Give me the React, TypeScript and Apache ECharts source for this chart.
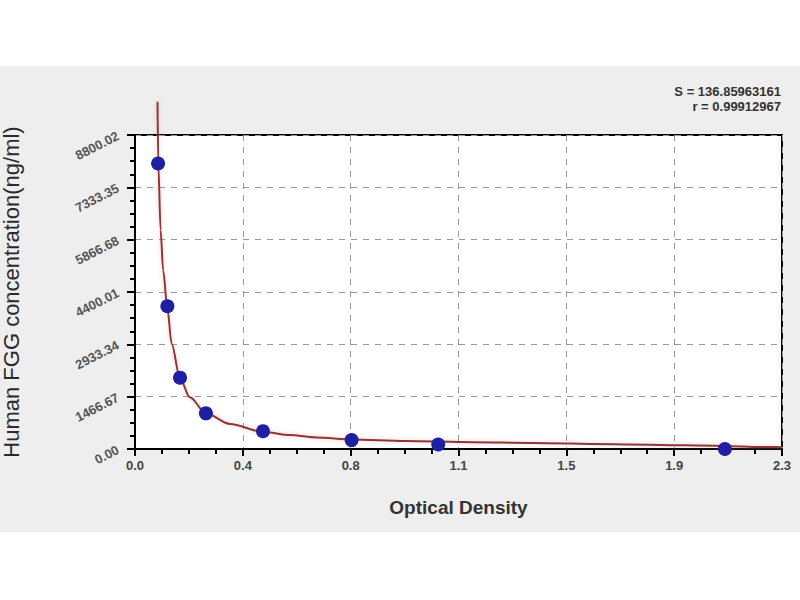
import React, { useEffect, useRef } from "react";
import * as echarts from "echarts";

// Standards (Optical Density vs concentration)
const pointOD = [0.082, 0.115, 0.16, 0.252, 0.455, 0.77, 1.078, 2.097];
const pointConc = [8000, 4000, 2000, 1000, 500, 250, 125, 0];

// Fitted curve
const curveOD = [0.08, 0.083, 0.091, 0.1, 0.115, 0.13, 0.16, 0.195, 0.252, 0.338, 0.456, 0.551, 0.646, 0.77, 0.96, 1.2, 1.41, 1.7, 1.955, 2.27, 2.3];
const curveConc = [9730, 7950, 6140, 5010, 3960, 2960, 1980, 1450, 1000, 700, 480, 390, 325, 265, 225, 190, 170, 135, 105, 55, 50];

const xTickLabels = ["0.0", "0.4", "0.8", "1.1", "1.5", "1.9", "2.3"];
const yTickLabels = ["0.00", "1466.67", "2933.34", "4400.01", "5866.68", "7333.35", "8800.02"];

const statLines = ["S = 136.85963161", "r = 0.99912967"];

const X_MAX = 2.3;
const X_INTERVAL = X_MAX / (xTickLabels.length - 1);
const Y_MAX = 8800.02;
const Y_INTERVAL = 1466.67;

const FONT = "'Liberation Sans', Arial, sans-serif";

export default function App() {
  const ref = useRef<HTMLDivElement>(null);

  useEffect(() => {
    if (!ref.current) return;
    const chart = echarts.init(ref.current, null, { renderer: "svg" });
    const option: any = {
      animation: false,
      backgroundColor: "#ffffff",
      textStyle: { fontFamily: FONT },
      graphic: {
        elements: [
          {
            type: "rect",
            z: -100,
            silent: true,
            shape: { x: 0, y: 66, width: 800, height: 466 },
            style: { fill: "#eeeeee" },
          },
          {
            type: "text",
            z: 10,
            x: 781,
            y: 91,
            style: {
              text: statLines[0],
              align: "right",
              verticalAlign: "middle",
              font: `bold 13px ${FONT}`,
              fill: "#333333",
            },
          },
          {
            type: "text",
            z: 10,
            x: 781,
            y: 106,
            style: {
              text: statLines[1],
              align: "right",
              verticalAlign: "middle",
              font: `bold 13px ${FONT}`,
              fill: "#333333",
            },
          },
        ],
      },
      grid: {
        left: 135,
        top: 135,
        width: 647,
        height: 314,
        containLabel: false,
        outerBoundsMode: "none",
        show: true,
        backgroundColor: "#ffffff",
        borderColor: "#000000",
        borderWidth: 2,
      },
      xAxis: {
        type: "value",
        min: 0,
        max: X_MAX,
        interval: X_INTERVAL,
        name: "Optical Density",
        nameLocation: "middle",
        nameGap: 49,
        nameTextStyle: { fontSize: 19, fontWeight: "bold", color: "#333333", fontFamily: FONT },
        axisLine: { show: true, lineStyle: { color: "#000000", width: 2 } },
        axisTick: { show: true, inside: false, length: 7, lineStyle: { color: "#000000", width: 2 } },
        minorTick: { show: true, splitNumber: 4, length: 5, lineStyle: { color: "#000000", width: 2 } },
        axisLabel: {
          margin: 10,
          fontSize: 13,
          fontWeight: "bold",
          color: "#444444",
          fontFamily: FONT,
          formatter: (v: number) => xTickLabels[Math.round(v / X_INTERVAL)] ?? "",
        },
        splitLine: { show: true, lineStyle: { color: "#999999", width: 1, type: [6, 6] } },
      },
      yAxis: {
        type: "value",
        min: 0,
        max: Y_MAX,
        interval: Y_INTERVAL,
        name: "Human FGG concentration(ng/ml)",
        nameLocation: "middle",
        nameRotate: 90,
        nameGap: 113,
        nameTextStyle: { fontSize: 22, color: "#2a2a2a", fontFamily: FONT },
        axisLine: { show: true, lineStyle: { color: "#000000", width: 2 } },
        axisTick: { show: true, inside: false, length: 8, lineStyle: { color: "#000000", width: 2 } },
        minorTick: { show: true, splitNumber: 4, length: 5, lineStyle: { color: "#000000", width: 2 } },
        axisLabel: {
          margin: 17,
          rotate: 27,
          fontSize: 13,
          fontWeight: "bold",
          color: "#555555",
          fontFamily: FONT,
          formatter: (v: number) => yTickLabels[Math.round(v / Y_INTERVAL)] ?? "",
        },
        splitLine: { show: true, lineStyle: { color: "#999999", width: 1, type: [6, 6] } },
      },
      series: [
        {
          type: "line",
          name: "fit",
          data: curveOD.map((x, i) => [x, curveConc[i]]),
          showSymbol: false,
          symbol: "none",
          clip: false,
          smooth: 0.3,
          smoothMonotone: "x",
          z: 3,
          lineStyle: {
            color: "#8e3535",
            width: 2,
            shadowColor: "rgba(230,140,140,0.5)",
            shadowBlur: 4,
          },
        },
        {
          type: "scatter",
          name: "standards",
          data: pointOD.map((x, i) => [x, pointConc[i]]),
          symbol: "circle",
          symbolSize: 14,
          clip: false,
          z: 5,
          itemStyle: { color: "#1f1fa3", opacity: 1 },
        },
      ],
    };
    chart.setOption(option);
    return () => chart.dispose();
  }, []);

  return (
    <div
      ref={ref}
      style={{ position: "fixed", left: 0, top: 0, width: 800, height: 600 }}
    />
  );
}
